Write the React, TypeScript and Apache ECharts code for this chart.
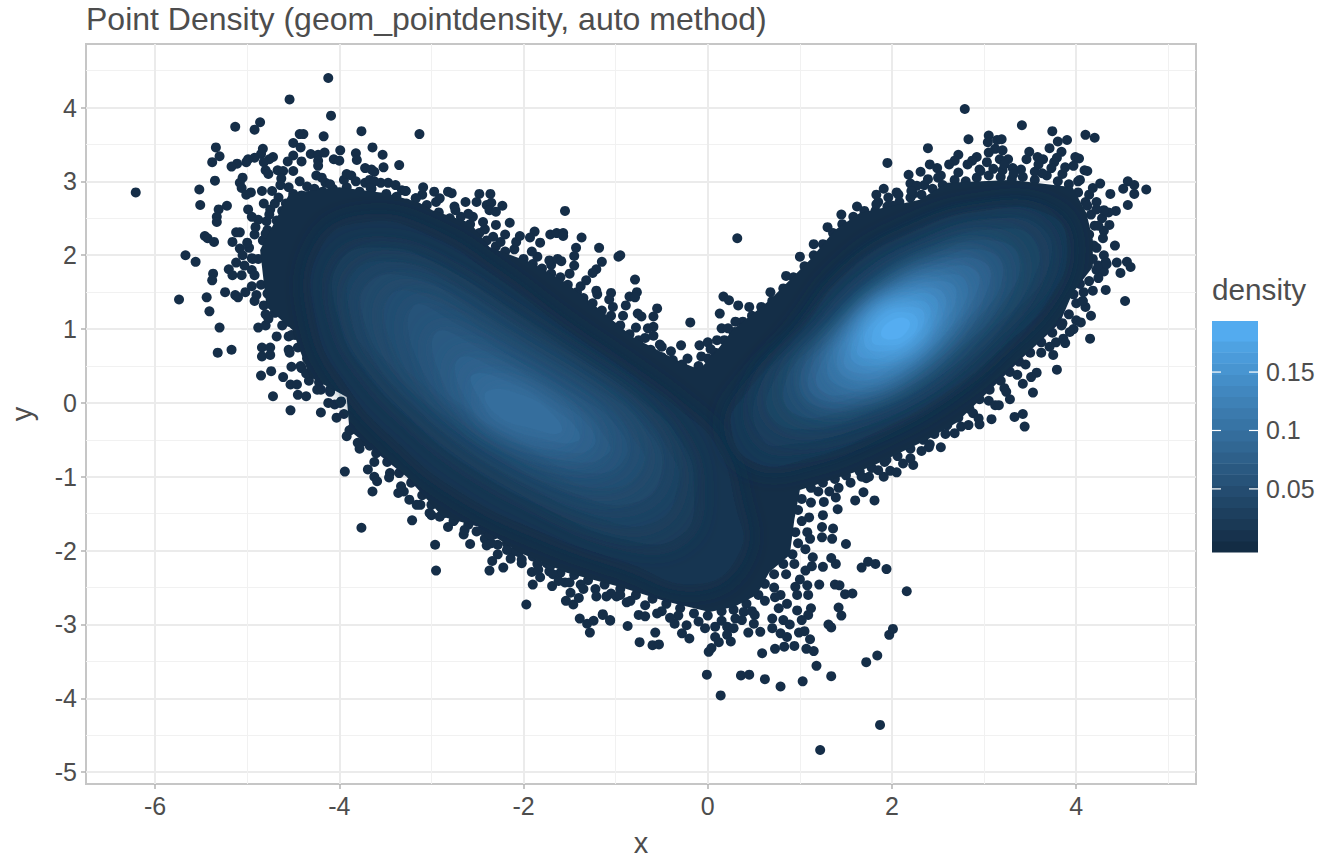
import React, { useEffect, useRef } from "react";
import * as echarts from "echarts";

// axis values
const xTicks = [-6, -4, -2, 0, 2, 4];
const xMinor = [-5, -3, -1, 1, 3, 5];
const yTicks = [-5, -4, -3, -2, -1, 0, 1, 2, 3, 4];
const yMinor = [-4.5, -3.5, -2.5, -1.5, -0.5, 0.5, 1.5, 2.5, 3.5, 4.5];
const legendTicks = [0.05, 0.1, 0.15];
const legendEdges = [
  -0.004, 0.0055, 0.015, 0.0245, 0.034, 0.0435, 0.053, 0.0625, 0.072, 0.0815, 0.091,
  0.1005, 0.11, 0.1195, 0.129, 0.1385, 0.148, 0.1575, 0.167, 0.1765, 0.1937,
];

// density contours, [x, y]
const outerBody = [
  [-4.86, 2.07], [-4.54, 2.84], [-4.0, 2.92], [-3.49, 2.84], [-3.13, 2.71], [-2.99, 2.61], [-2.58, 2.44],
  [-2.37, 2.11], [-1.9, 1.89], [-1.53, 1.62], [-1.17, 1.26], [-0.81, 0.89], [-0.34, 0.58], [-0.09, 0.45],
  [0.13, 0.76], [0.27, 0.99], [0.67, 1.39], [1.11, 1.94], [1.38, 2.34], [1.65, 2.57], [2.3, 2.75], [2.6, 2.98],
  [3.28, 3.02], [3.96, 2.92], [4.11, 2.57], [4.18, 2.21], [4.18, 1.84], [3.96, 1.49], [3.82, 1.08], [3.39, 0.58],
  [3.1, 0.22], [2.7, -0.27], [2.38, -0.5], [1.76, -0.87], [1.0, -1.18], [0.94, -1.58], [0.89, -2.06], [0.67, -2.29],
  [0.53, -2.6], [0.29, -2.76], [0.02, -2.83], [-0.45, -2.69], [-0.96, -2.49], [-1.53, -2.3], [-2.04, -2.03],
  [-2.48, -1.68], [-2.88, -1.54], [-3.27, -1.0], [-3.59, -0.68], [-3.89, -0.37], [-3.92, 0.08], [-4.32, 0.35],
  [-4.51, 0.99], [-4.79, 1.3],
];
const leftL1 = [[-4.2, 2.1], [-3.7, 2.45], [-3.0, 2.25], [-2.3, 1.7], [-1.6, 1.05], [-0.9, 0.45], [-0.3, -0.1], [0.1, -0.6], [0.3, -1.4], [0.35, -2.0], [-0.1, -2.45], [-0.9, -2.15], [-1.8, -1.75], [-2.7, -1.2], [-3.4, -0.5], [-3.9, 0.2], [-4.25, 1.1]];
const leftL2 = [[-4.0, 1.9], [-3.5, 2.1], [-2.9, 1.85], [-2.2, 1.3], [-1.5, 0.7], [-0.8, 0.1], [-0.3, -0.5], [-0.15, -1.2], [-0.3, -1.8], [-0.9, -1.85], [-1.8, -1.4], [-2.6, -0.85], [-3.2, -0.25], [-3.7, 0.4], [-4.0, 1.1]];
const leftL2b = [[-3.85, 1.75], [-3.35, 1.9], [-2.75, 1.58], [-2.05, 1.02], [-1.35, 0.45], [-0.75, -0.1], [-0.4, -0.7], [-0.32, -1.05], [-0.55, -1.6], [-1.2, -1.55], [-2.05, -1.05], [-2.75, -0.5], [-3.3, 0.1], [-3.7, 0.7], [-3.85, 1.05]];
const leftL3 = [[-3.7, 1.6], [-3.2, 1.7], [-2.6, 1.3], [-1.9, 0.75], [-1.2, 0.2], [-0.7, -0.3], [-0.5, -0.9], [-0.8, -1.35], [-1.5, -1.2], [-2.3, -0.7], [-2.9, -0.15], [-3.4, 0.45], [-3.7, 1.0]];
const leftL3b = [[-3.45, 1.45], [-2.95, 1.38], [-2.35, 0.92], [-1.7, 0.45], [-1.1, -0.05], [-0.8, -0.5], [-0.7, -0.82], [-1.05, -1.15], [-1.75, -0.9], [-2.45, -0.42], [-3.0, 0.15], [-3.4, 0.72]];
const leftL4 = [[-3.2, 1.3], [-2.7, 1.05], [-2.1, 0.6], [-1.5, 0.15], [-1.0, -0.3], [-0.9, -0.75], [-1.3, -0.95], [-2.0, -0.6], [-2.6, -0.15], [-3.1, 0.45]];
const leftL4b = [[-2.95, 0.95], [-2.45, 0.72], [-1.9, 0.32], [-1.4, -0.08], [-1.12, -0.45], [-1.08, -0.68], [-1.45, -0.8], [-2.1, -0.5], [-2.6, -0.08], [-2.85, 0.22]];
const leftL5 = [[-2.7, 0.6], [-2.2, 0.4], [-1.7, 0.05], [-1.3, -0.3], [-1.25, -0.6], [-1.6, -0.65], [-2.2, -0.4], [-2.6, 0.0]];
const leftL5b = [[-2.55, 0.38], [-2.1, 0.25], [-1.68, -0.08], [-1.42, -0.35], [-1.42, -0.52], [-1.75, -0.5], [-2.25, -0.28], [-2.45, 0.0]];
const leftL6 = [[-2.4, 0.15], [-2.0, 0.1], [-1.65, -0.2], [-1.6, -0.4], [-1.9, -0.35], [-2.3, -0.15]];
const rightR1 = [[0.4, 0.1], [1.0, 0.95], [1.5, 1.75], [2.2, 2.3], [3.0, 2.6], [3.7, 2.55], [3.9, 2.1], [3.7, 1.4], [3.2, 0.75], [2.6, 0.15], [1.9, -0.35], [1.1, -0.75], [0.5, -0.8], [0.25, -0.3]];
const rightR1b = [[0.55, 0.18], [1.1, 0.95], [1.6, 1.68], [2.3, 2.2], [3.05, 2.48], [3.62, 2.38], [3.7, 1.85], [3.3, 1.18], [2.85, 0.55], [2.2, -0.05], [1.5, -0.4], [0.95, -0.55], [0.6, -0.5]];
const rightR2 = [[0.7, 0.25], [1.2, 0.95], [1.7, 1.6], [2.4, 2.1], [3.1, 2.35], [3.55, 2.2], [3.5, 1.6], [3.05, 0.95], [2.5, 0.35], [1.8, -0.1], [1.1, -0.35], [0.7, -0.2]];
const rightR2b = [[0.85, 0.3], [1.3, 0.95], [1.8, 1.58], [2.45, 2.02], [3.08, 2.2], [3.38, 1.95], [3.2, 1.35], [2.72, 0.72], [2.15, 0.2], [1.5, -0.1], [0.95, -0.15]];
const rightR3 = [[1.0, 0.35], [1.4, 0.95], [1.9, 1.55], [2.5, 1.95], [3.05, 2.05], [3.2, 1.7], [2.9, 1.1], [2.4, 0.5], [1.8, 0.1], [1.2, -0.05]];
const rightR3b = [[1.1, 0.4], [1.48, 0.98], [1.95, 1.52], [2.5, 1.88], [2.98, 1.92], [3.05, 1.58], [2.72, 1.0], [2.25, 0.45], [1.7, 0.12], [1.22, 0.05]];
const rightR4 = [[1.2, 0.45], [1.55, 1.0], [2.0, 1.5], [2.5, 1.8], [2.9, 1.8], [2.9, 1.45], [2.55, 0.9], [2.1, 0.4], [1.6, 0.15], [1.25, 0.15]];
const rightR4b = [[1.3, 0.5], [1.6, 1.02], [2.02, 1.48], [2.5, 1.72], [2.8, 1.65], [2.72, 1.2], [2.32, 0.65], [1.85, 0.28], [1.45, 0.22]];
const rightR5 = [[1.4, 0.55], [1.65, 1.05], [2.05, 1.45], [2.5, 1.65], [2.7, 1.5], [2.5, 1.0], [2.1, 0.55], [1.65, 0.3]];
const rightR5b = [[1.48, 0.6], [1.7, 1.08], [2.08, 1.42], [2.48, 1.55], [2.58, 1.3], [2.32, 0.85], [1.92, 0.48], [1.58, 0.42]];
const rightR6 = [[1.55, 0.65], [1.75, 1.1], [2.1, 1.4], [2.45, 1.45], [2.45, 1.1], [2.15, 0.7], [1.75, 0.5]];
const rightR6b = [[1.62, 0.72], [1.8, 1.12], [2.12, 1.35], [2.4, 1.32], [2.32, 0.98], [2.02, 0.68], [1.72, 0.6]];
const rightR7 = [[1.7, 0.8], [1.85, 1.15], [2.15, 1.3], [2.35, 1.2], [2.2, 0.85], [1.9, 0.7]];
const rightR7b = [[1.78, 0.85], [1.92, 1.15], [2.18, 1.22], [2.28, 1.08], [2.15, 0.85], [1.92, 0.78]];
const rightR8 = [[1.88, 0.93], [2.0, 1.12], [2.18, 1.12], [2.15, 0.95], [2.0, 0.86]];

const contourShapes = [
  outerBody, leftL1, rightR1, rightR1b, leftL2, rightR2, leftL2b, rightR2b, leftL3, leftL3b, rightR3, leftL4, leftL4b,
  rightR3b, leftL5, leftL5b, rightR4, leftL6, rightR4b, rightR5, rightR5b, rightR6, rightR6b, rightR7, rightR7b, rightR8,
];
const contourLevels = [
  0.004, 0.015, 0.018, 0.027, 0.025, 0.036, 0.033, 0.049, 0.042, 0.05, 0.062, 0.058, 0.068,
  0.076, 0.078, 0.088, 0.09, 0.097, 0.102, 0.115, 0.127, 0.14, 0.152, 0.165, 0.176, 0.188,
];

// single points outside the solid body, [x, y]
const topLeftDots = [
  [-4.12, 4.4], [-4.54, 4.11], [-4.09, 3.89], [-5.13, 3.74], [-4.86, 3.8], [-4.92, 3.7], [-3.76, 3.68], [-4.17, 3.61], [-4.43, 3.64], [-4.39, 3.64],
  [-4.5, 3.52], [-4.42, 3.46], [-5.34, 3.46], [-5.3, 3.34], [-5.38, 3.26], [-4.83, 3.44], [-4.85, 3.37], [-4.92, 3.32], [-4.99, 3.3], [-5.01, 3.26],
  [-5.11, 3.24], [-5.17, 3.2], [-4.72, 3.33], [-4.76, 3.3], [-4.82, 3.26], [-4.8, 3.15], [-4.77, 3.1], [-4.56, 3.27], [-4.5, 3.35], [-4.41, 3.27],
  [-4.31, 3.37], [-4.23, 3.36], [-4.16, 3.39], [-4.23, 3.28], [-4.23, 3.21], [-3.99, 3.42], [-4.06, 3.3], [-4.0, 3.28], [-3.82, 3.38], [-3.81, 3.29],
  [-3.64, 3.46], [-3.53, 3.36], [-3.35, 3.22], [-3.52, 3.19], [-3.72, 3.18], [-3.65, 3.16], [-3.62, 3.13], [-4.67, 3.15], [-4.61, 3.14], [-4.5, 3.14],
  [-5.05, 3.05], [-5.08, 2.98], [-5.06, 2.91], [-5.35, 3.01], [-5.52, 2.89], [-5.51, 2.68], [-6.21, 2.85], [-5.22, 2.67], [-5.31, 2.62], [-5.33, 2.52],
  [-5.33, 2.45], [-4.84, 2.87], [-4.73, 2.87], [-4.96, 2.85], [-5.01, 2.82], [-4.43, 3.0], [-4.63, 3.04], [-4.64, 2.95], [-4.25, 3.08], [-4.19, 3.05],
  [-4.27, 2.9], [-4.1, 2.96], [-3.92, 3.1], [-3.87, 3.08], [-3.82, 3.0], [-3.67, 3.02], [-3.62, 3.0], [-3.66, 2.91], [-3.47, 2.98], [-3.39, 2.95],
  [-3.28, 2.87], [-3.17, 2.77], [-3.13, 3.64], [-5.46, 2.26], [-5.43, 2.23], [-5.36, 2.18], [-5.16, 2.18], [-5.12, 2.31], [-5.08, 2.31], [-5.08, 2.09],
  [-5.0, 2.17], [-4.8, 2.29], [-4.91, 2.38], [-4.99, 2.62], [-4.95, 2.52], [-4.82, 2.7], [-4.79, 2.46], [-4.76, 2.55], [-4.7, 2.7], [-4.54, 2.59],
  [-5.05, 2.0], [-4.95, 1.96],
];
const leftDots = [
  [-5.67, 2.0], [-5.56, 1.91], [-5.37, 1.75], [-5.38, 1.66], [-5.74, 1.4], [-5.44, 1.43], [-5.41, 1.24], [-5.3, 1.02], [-5.32, 0.68], [-5.17, 0.72],
  [-5.24, 1.5], [-5.13, 1.46], [-5.1, 1.43], [-5.02, 1.5], [-5.2, 1.81], [-5.16, 1.73], [-5.06, 1.73], [-5.12, 1.9], [-5.03, 1.86], [-4.94, 1.95],
  [-4.92, 1.73], [-4.9, 1.46], [-4.88, 1.02], [-4.8, 1.05], [-4.77, 1.14], [-4.68, 0.9], [-4.55, 0.9], [-4.52, 0.92], [-4.84, 0.75], [-4.75, 0.75],
  [-4.84, 0.63], [-4.75, 0.65], [-4.54, 0.68], [-4.85, 0.37], [-4.74, 0.43], [-4.61, 0.35], [-4.53, 0.25], [-4.46, 0.25], [-4.52, 0.49], [-4.72, 0.09],
  [-4.53, -0.1], [-4.45, 0.11], [-4.36, 0.09], [-4.2, -0.13], [-4.12, 0.0], [-3.99, 0.0], [-4.03, -0.2], [-3.88, -0.37], [-3.77, -0.39], [-4.41, 0.47],
  [-4.36, 0.4], [-4.24, 0.18], [-4.1, 0.18],
];
const lowerLeftDots = [
  [-3.94, -0.93], [-3.76, -1.69], [-3.64, -1.2], [-3.69, -0.9], [-3.62, -1.0], [-3.59, -1.06], [-3.46, -1.01], [-3.36, -1.22], [-3.33, -1.13], [-3.21, -1.59],
  [-2.64, -1.72], [-2.96, -1.92], [-2.95, -2.27], [-2.58, -1.91], [-2.4, -1.93], [-2.35, -1.9], [-2.28, -2.05], [-2.34, -2.14], [-2.37, -2.27], [-2.22, -2.23],
  [-2.14, -2.11], [-2.18, -1.99], [-2.02, -2.17], [-1.97, -2.73], [-1.91, -2.29], [-1.9, -2.46], [-1.82, -2.36], [-1.84, -2.26], [-1.7, -2.19], [-1.68, -2.32],
  [-1.69, -2.48], [-1.62, -2.41], [-1.54, -2.68], [-1.49, -2.57], [-1.46, -2.73], [-1.4, -2.64], [-1.39, -2.92], [-1.31, -2.99], [-1.24, -2.95], [-1.28, -3.11],
  [-1.14, -2.86], [-1.06, -2.94], [-1.5, -2.43], [-1.35, -2.52], [-1.21, -2.62], [-1.1, -2.62], [-0.99, -2.62], [-3.02, -1.49], [-2.91, -1.54], [-2.76, -1.6],
  [-2.51, -1.74], [-2.37, -1.78], [-3.24, -1.31], [-3.16, -1.38], [-3.8, -0.54], [-3.67, -0.58], [-3.89, -0.37],
];
const bottomDots = [
  [1.22, -4.7], [1.87, -4.36], [0.14, -3.96], [-0.01, -3.68], [0.36, -3.69], [0.45, -3.68], [0.62, -3.74], [0.79, -3.84], [1.03, -3.77], [1.34, -3.7],
  [1.18, -3.56], [1.72, -3.51], [1.84, -3.42], [1.97, -3.14], [2.01, -3.06], [2.16, -2.55], [0.59, -3.39], [0.73, -3.33], [0.83, -3.3], [0.94, -3.29],
  [1.07, -3.33], [1.15, -3.36], [0.01, -3.37], [0.04, -3.32], [1.11, -3.2], [0.99, -3.11], [1.05, -3.09], [1.31, -3.0], [1.34, -3.04], [1.45, -2.88],
  [1.42, -2.77], [1.49, -2.59], [1.57, -2.58], [1.38, -2.46], [1.43, -2.47], [1.21, -2.46], [1.67, -2.23], [1.74, -2.15], [1.82, -2.18], [1.94, -2.25],
  [1.39, -2.18], [1.34, -2.1], [1.25, -2.22], [1.14, -2.09], [1.13, -2.21], [1.5, -1.91], [1.36, -1.7], [1.35, -1.84], [1.24, -1.68], [1.24, -1.82],
  [1.11, -1.84], [1.41, -1.44], [1.25, -1.52], [1.26, -1.34], [1.6, -1.32], [1.81, -1.32], [1.69, -1.21], [1.39, -1.28], [1.32, -1.2], [1.06, -2.27],
  [1.0, -2.39], [1.08, -2.47], [0.95, -2.49], [1.09, -2.6], [0.97, -2.6], [0.79, -2.6], [0.73, -2.63], [0.86, -2.72], [0.77, -2.78], [0.97, -2.81],
  [1.12, -2.78], [1.09, -2.87], [1.02, -2.94], [0.82, -2.94], [0.89, -3.0], [0.7, -2.92], [0.7, -3.05], [0.51, -2.87], [0.5, -2.99], [0.57, -3.1],
  [0.44, -3.11], [0.79, -3.12], [0.86, -3.17], [0.39, -2.83], [0.37, -2.94], [0.21, -3.03], [0.28, -3.05], [0.21, -3.14], [0.25, -3.23], [0.08, -3.03],
  [0.08, -3.17], [0.12, -3.24], [-0.03, -3.05], [-0.28, -3.12], [-0.2, -3.19], [-0.36, -2.99], [-0.23, -3.01], [-0.57, -3.11], [-0.6, -3.28], [-0.53, -3.27],
  [-0.74, -3.24], [-0.87, -3.02], [-1.06, -2.95], [-1.14, -2.87], [-0.75, -2.87], [-0.68, -2.89], [-0.55, -2.85], [-0.41, -2.91], [-0.95, -2.6], [-0.84, -2.68],
];
const topRightDots = [
  [2.79, 3.98], [3.41, 3.76], [3.74, 3.68], [4.1, 3.63], [4.2, 3.59], [3.9, 3.56], [3.8, 3.54], [2.83, 3.57], [2.39, 3.45], [1.95, 3.25],
  [3.05, 3.62], [3.04, 3.53], [3.14, 3.56], [3.19, 3.57], [3.12, 3.44], [3.2, 3.42], [3.05, 3.39], [3.71, 3.45], [3.84, 3.4], [3.79, 3.32],
  [3.76, 3.26], [3.49, 3.4], [3.46, 3.3], [3.58, 3.33], [3.64, 3.3], [3.59, 3.23], [3.73, 3.18], [3.99, 3.33], [4.03, 3.31], [4.09, 3.15],
  [4.12, 3.14], [3.97, 3.21], [3.88, 3.19], [3.26, 3.3], [3.17, 3.3], [3.22, 3.23], [3.31, 3.18], [3.32, 3.1], [3.1, 3.17], [3.03, 3.26],
  [2.96, 3.14], [2.92, 3.33], [2.87, 3.28], [2.82, 3.23], [2.72, 3.36], [2.68, 3.28], [2.62, 3.23], [2.49, 3.18], [2.41, 3.23], [2.53, 3.08],
  [2.39, 3.03], [2.31, 3.13], [2.18, 3.09], [2.2, 2.97], [2.27, 2.94], [3.63, 3.11], [4.04, 3.02], [4.26, 2.97], [4.18, 2.91], [4.37, 2.83],
  [4.56, 3.0], [4.63, 2.95], [4.51, 2.9], [4.76, 2.89], [4.63, 2.83], [4.56, 2.68], [4.43, 2.6], [4.35, 2.58], [4.3, 2.61], [4.22, 2.62],
  [4.36, 2.41], [4.24, 2.4], [4.29, 2.23], [4.42, 2.13], [4.44, 1.9], [4.48, 1.76], [4.55, 1.91], [4.59, 1.84], [4.32, 1.91], [4.24, 1.86],
  [4.33, 1.88], [4.24, 1.69], [4.32, 1.53], [4.53, 1.38], [4.07, 1.38], [4.04, 1.61], [3.97, 1.47], [4.19, 2.13], [4.06, 2.2], [4.12, 2.67],
  [2.23, 2.83], [2.07, 2.82], [1.91, 2.9], [1.83, 2.82], [1.83, 2.69], [2.21, 2.87], [1.96, 2.78], [2.01, 2.67],
];
const notchDots = [
  [-1.55, 2.6], [0.32, 2.23], [-1.37, 2.24], [-1.18, 2.1], [-1.88, 2.32], [-1.93, 2.24], [-2.04, 2.26], [-1.82, 2.17], [-1.71, 2.28], [-1.64, 2.3],
  [-1.57, 2.3], [-1.57, 2.26], [-1.43, 2.1], [-1.45, 1.99], [-1.72, 1.93], [-1.63, 1.95], [-1.59, 1.92], [-1.91, 2.05], [-0.97, 1.98], [-0.95, 2.0],
  [-1.15, 1.91], [-1.21, 1.81], [-1.25, 1.76], [-1.45, 1.86], [-1.32, 1.66], [-0.79, 1.67], [-0.77, 1.5], [-0.85, 1.44], [-0.79, 1.43], [-1.05, 1.49],
  [-1.07, 1.4], [-1.21, 1.52], [-0.55, 1.28], [-0.89, 1.32], [-0.59, 1.17], [-0.72, 1.17], [-0.76, 1.21], [-0.19, 1.09], [0.17, 1.44], [0.23, 1.39],
  [0.13, 1.21], [0.33, 1.32], [-0.59, 1.03], [-0.65, 1.01], [-0.59, 0.91], [-0.52, 0.79], [-0.29, 0.78], [-0.09, 0.78], [0.0, 0.82], [0.03, 0.73],
  [0.15, 1.01], [0.22, 1.01], [0.29, 0.96], [-0.07, 0.63], [-2.36, 2.83], [-2.23, 2.67], [-2.15, 2.44], [-2.48, 2.83], [-2.63, 2.72], [-2.51, 2.72],
  [-2.4, 2.68], [-2.35, 2.71], [-2.82, 2.86], [-2.78, 2.84], [-2.91, 2.77], [-2.97, 2.86], [-3.17, 2.77], [-3.28, 2.87], [-3.09, 2.92], [-2.37, 2.61],
  [-2.3, 2.59], [-2.74, 2.61], [-2.6, 2.56], [-2.44, 2.45], [-2.3, 2.41], [-2.33, 2.25], [-2.2, 2.28],
];
const lowerRightDots = [
  [4.16, 1.18], [4.15, 0.87], [4.05, 1.09], [3.97, 1.0], [3.93, 0.96], [4.07, 1.38], [3.84, 1.05], [3.86, 0.87], [3.88, 0.81], [3.71, 0.76],
  [3.75, 0.65], [3.79, 0.45], [3.53, 0.14], [3.57, 0.41], [3.51, 0.35], [3.42, 0.26], [3.24, 0.15], [3.28, 0.05], [3.12, -0.03], [3.16, -0.03],
  [3.33, -0.19], [3.42, -0.15], [3.44, -0.32], [3.08, -0.22], [2.94, -0.21], [2.95, -0.29], [2.83, -0.3], [2.68, -0.41], [2.53, -0.6], [2.32, -0.65],
  [2.41, -0.56], [2.23, -0.84], [2.2, -0.75], [2.05, -0.94], [1.91, -1.0], [1.85, -0.91], [1.75, -1.0], [1.67, -1.0], [1.94, -0.77],
];
// points packed along the rim of the body
const rimDots = [
  [-4.95, 1.8], [-4.88, 1.95], [-4.83, 2.2], [-4.78, 2.34], [-4.68, 2.47], [-4.62, 2.6], [-4.58, 2.7], [-4.5, 2.83], [-4.41, 2.81], [-4.3, 2.79],
  [-4.18, 2.86], [-4.07, 2.9], [-3.92, 2.92], [-3.78, 2.86], [-3.65, 2.9], [-3.49, 2.83], [-3.38, 2.79], [-3.27, 2.7], [-3.18, 2.65], [-3.05, 2.68],
  [-2.92, 2.58], [-2.8, 2.5], [-2.68, 2.52], [-2.58, 2.42], [-2.48, 2.3], [-2.4, 2.2], [-2.3, 2.12], [-2.2, 2.05], [-2.1, 2.08], [-2.0, 1.95],
  [-1.9, 1.88], [-1.8, 1.82], [-1.7, 1.75], [-1.6, 1.7], [-1.52, 1.6], [-1.42, 1.5], [-1.35, 1.42], [-1.25, 1.35], [-1.15, 1.25], [-1.05, 1.18],
  [-0.95, 1.05], [-0.85, 0.93], [-0.75, 0.85], [-0.62, 0.72], [-0.5, 0.62], [-0.38, 0.58], [-0.28, 0.52], [-0.18, 0.42], [-0.1, 0.5], [0.0, 0.6],
  [0.08, 0.68], [0.18, 0.85], [0.28, 0.95], [0.38, 1.1], [0.48, 1.18], [0.58, 1.3], [0.7, 1.38], [0.82, 1.55], [0.93, 1.7], [1.05, 1.85],
  [1.15, 2.0], [1.25, 2.15], [1.36, 2.3], [1.46, 2.42], [1.58, 2.52], [1.7, 2.6], [1.82, 2.6], [1.95, 2.66], [2.08, 2.72], [2.2, 2.78],
  [2.32, 2.82], [2.44, 2.9], [2.55, 2.95], [2.68, 3.02], [2.8, 3.0], [2.92, 3.05], [3.05, 3.08], [3.18, 3.06], [3.3, 3.03], [3.42, 3.06],
  [3.55, 3.02], [3.68, 3.08], [3.8, 3.0], [3.92, 2.96], [4.02, 2.85], [4.1, 2.72], [4.16, 2.55], [4.2, 2.4], [4.14, 2.28], [4.22, 2.1],
  [4.18, 1.95], [4.22, 1.8], [4.14, 1.65], [4.08, 1.5], [4.0, 1.35], [3.92, 1.2], [3.85, 1.08], [3.74, 0.95], [3.62, 0.82], [3.5, 0.68],
  [3.38, 0.56], [3.28, 0.42], [3.18, 0.3], [3.06, 0.18], [2.95, 0.05], [2.84, -0.08], [2.72, -0.2], [2.6, -0.3], [2.46, -0.42], [2.34, -0.5],
  [2.2, -0.62], [2.06, -0.72], [1.92, -0.8], [1.78, -0.88], [1.65, -0.93], [1.5, -0.98], [1.38, -1.03], [1.25, -1.08], [1.12, -1.15], [1.02, -1.3],
  [0.98, -1.45], [1.02, -1.6], [0.95, -1.75], [0.98, -1.9], [0.92, -2.05], [0.82, -2.18], [0.72, -2.32], [0.62, -2.45], [0.55, -2.6], [0.42, -2.72],
  [0.28, -2.8], [0.15, -2.82], [0.0, -2.88], [-0.15, -2.85], [-0.3, -2.78], [-0.45, -2.72], [-0.6, -2.65], [-0.78, -2.6], [-0.95, -2.52], [-1.12, -2.46],
  [-1.3, -2.4], [-1.45, -2.33], [-1.6, -2.3], [-1.75, -2.17], [-1.9, -2.08], [-2.05, -2.02], [-2.18, -1.9], [-2.32, -1.78], [-2.45, -1.72], [-2.6, -1.65],
  [-2.75, -1.58], [-2.88, -1.5], [-3.0, -1.38], [-3.1, -1.25], [-3.22, -1.08], [-3.35, -0.95], [-3.48, -0.8], [-3.6, -0.68], [-3.72, -0.52], [-3.85, -0.33],
  [-3.95, -0.15], [-3.98, 0.02], [-4.1, 0.15], [-4.22, 0.28], [-4.3, 0.42], [-4.35, 0.6], [-4.45, 0.75], [-4.48, 0.92], [-4.55, 1.1], [-4.7, 1.22],
  [-4.82, 1.32], [-4.78, 1.48], [-4.85, 1.6],
];
// second, looser row just outside the rim
const fringeDots = [
  [-4.98, 2.1], [-4.92, 2.28], [-4.88, 2.48], [-4.75, 2.62], [-4.66, 2.78], [-4.55, 2.92], [-4.35, 2.93], [-4.15, 2.98], [-3.95, 3.02], [-3.72, 2.98],
  [-3.55, 2.98], [-3.32, 2.88], [-3.1, 2.82], [-2.95, 2.72], [-2.75, 2.66], [-2.55, 2.52], [-2.42, 2.35], [-2.25, 2.18], [-2.08, 2.18], [-1.85, 1.98],
  [-1.7, 1.87], [-1.5, 1.75], [-1.38, 1.58], [-1.2, 1.47], [-1.03, 1.3], [-0.92, 1.18], [-0.78, 1.02], [-0.68, 0.88], [-0.5, 0.76], [-0.4, 0.7],
  [-0.22, 0.6], [0.1, 0.85], [0.3, 1.1], [0.45, 1.3], [0.68, 1.5], [0.85, 1.72], [1.0, 1.98], [1.15, 2.15], [1.3, 2.38], [1.45, 2.55],
  [1.62, 2.66], [1.85, 2.72], [2.05, 2.85], [2.35, 2.95], [2.5, 3.05], [2.72, 3.12], [2.95, 3.16], [3.2, 3.15], [3.4, 3.16], [3.55, 3.13],
  [3.85, 3.1], [4.02, 3.0], [4.14, 2.82], [4.22, 2.72], [4.28, 2.5], [4.3, 2.33], [4.3, 2.0], [4.3, 1.78], [4.18, 1.52], [4.1, 1.3],
  [4.0, 1.12], [3.78, 0.82], [3.62, 0.68], [3.45, 0.52], [3.36, 0.38], [3.22, 0.2], [3.05, 0.03], [2.88, -0.14], [2.75, -0.32], [2.58, -0.42],
  [2.4, -0.6], [2.12, -0.82], [1.98, -0.92], [1.72, -1.02], [1.55, -1.08], [1.42, -1.15], [1.2, -1.2], [1.12, -1.35], [1.1, -1.55], [1.08, -1.75],
  [1.06, -1.98], [0.94, -2.18], [0.85, -2.32], [0.72, -2.5], [0.62, -2.68], [0.48, -2.82], [0.3, -2.92], [0.15, -2.95], [-0.1, -2.96], [-0.32, -2.88],
  [-0.5, -2.82], [-0.68, -2.74], [-0.88, -2.7], [-1.05, -2.58], [-1.22, -2.52], [-1.38, -2.46], [-1.55, -2.43], [-1.72, -2.28], [-1.85, -2.18], [-2.02, -2.12],
  [-2.12, -2.02], [-2.28, -1.92], [-2.42, -1.84], [-2.65, -1.78], [-2.82, -1.68], [-3.0, -1.52], [-3.12, -1.38], [-3.3, -1.2], [-3.45, -0.95], [-3.62, -0.8],
  [-3.78, -0.62], [-3.92, -0.45], [-4.05, -0.02], [-4.2, 0.18], [-4.33, 0.3], [-4.42, 0.5], [-4.55, 0.72], [-4.62, 1.05], [-4.8, 1.2], [-4.92, 1.38],
  [-4.95, 1.58],
];

const scatterDots = [...rimDots, ...fringeDots, ...topLeftDots, ...leftDots, ...lowerLeftDots, ...bottomDots, ...topRightDots, ...notchDots, ...lowerRightDots];

const LOW = [0x13, 0x2b, 0x43];
const HIGH = [0x56, 0xb1, 0xf7];

const densityColor = (d: number) => {
  const t = Math.max(0, Math.min(1, d / 0.194));
  const c = LOW.map((v, i) => Math.round(v + (HIGH[i] - v) * t));
  return `rgb(${c[0]},${c[1]},${c[2]})`;
};

const GREY_TEXT = "#4d4d4d";
const FONT = "'Liberation Sans', Arial, sans-serif";

const App = () => {
  const chartRef = useRef<HTMLDivElement>(null);

  useEffect(() => {
    const chart = echarts.init(chartRef.current, null, { renderer: "svg" });

    const option: any = {
      animation: false,
      backgroundColor: "#ffffff",
      textStyle: { fontFamily: FONT },
      title: {
        text: "Point Density (geom_pointdensity, auto method)",
        left: 86,
        top: 3,
        padding: 0,
        textStyle: { fontSize: 32, fontWeight: "normal", color: GREY_TEXT, fontFamily: FONT },
      },
      grid: [
        { left: 86, top: 44, width: 1110, height: 740, show: true, borderColor: "#c6c6c6", borderWidth: 2, backgroundColor: "transparent", outerBoundsMode: "none" },
        { left: 1212, top: 321, width: 46, height: 231, outerBoundsMode: "none" },
      ],
      xAxis: [
        {
          type: "value", gridIndex: 0, min: -6.75, max: 5.3,
          name: "x", nameLocation: "middle", nameGap: 44,
          nameTextStyle: { fontSize: 29, color: GREY_TEXT, fontFamily: FONT },
          axisLine: { show: false, onZero: false },
          axisTick: { show: true, length: 5, customValues: xTicks, lineStyle: { color: "#b3b3b3", width: 1.5 } },
          axisLabel: { customValues: xTicks, fontSize: 25, color: GREY_TEXT, margin: 9, fontFamily: FONT },
          splitLine: { show: true, lineStyle: { color: "#ebebeb", width: 2 } },
        },
        {
          type: "value", gridIndex: 0, min: -6.75, max: 5.3,
          axisLine: { show: false, onZero: false },
          axisTick: { show: false, customValues: xMinor },
          axisLabel: { show: false },
          splitLine: { show: true, lineStyle: { color: "#f1f1f1", width: 1 } },
        },
        { type: "value", gridIndex: 1, min: 0, max: 1, show: false },
      ],
      yAxis: [
        {
          type: "value", gridIndex: 0, min: -5.16, max: 4.86,
          name: "y", nameLocation: "middle", nameGap: 50, nameRotate: 90,
          nameTextStyle: { fontSize: 29, color: GREY_TEXT, fontFamily: FONT },
          axisLine: { show: false, onZero: false },
          axisTick: { show: true, length: 5, customValues: yTicks, lineStyle: { color: "#b3b3b3", width: 1.5 } },
          axisLabel: { customValues: yTicks, fontSize: 25, color: GREY_TEXT, margin: 9, fontFamily: FONT },
          splitLine: { show: true, lineStyle: { color: "#ebebeb", width: 2 } },
        },
        {
          type: "value", gridIndex: 0, min: -5.16, max: 4.86,
          axisLine: { show: false, onZero: false },
          axisTick: { show: false, customValues: yMinor },
          axisLabel: { show: false },
          splitLine: { show: true, lineStyle: { color: "#f1f1f1", width: 1 } },
        },
        {
          type: "value", gridIndex: 1, min: -0.004, max: 0.1937, position: "right",
          axisLine: { show: false },
          axisTick: { show: false, customValues: legendTicks },
          axisLabel: { customValues: legendTicks, fontSize: 25, color: GREY_TEXT, margin: 8, fontFamily: FONT },
          splitLine: { show: false },
        },
      ],
      graphic: [
        {
          type: "text", left: 1212, top: 274,
          style: { text: "density", font: `29.7px ${FONT}`, fill: GREY_TEXT },
        },
      ],
      series: [
        {
          type: "custom", xAxisIndex: 0, yAxisIndex: 0, z: 3,
          data: contourLevels.map((d, i) => [i, d]),
          renderItem: (params: any, api: any) => {
            const i = params.dataIndex;
            const color = densityColor(contourLevels[i]);
            return {
              type: "polygon",
              shape: { points: contourShapes[i].map((p) => api.coord(p)), smooth: i === 0 ? 0 : 0.5 },
              style: { fill: color, shadowBlur: i === 0 ? 0 : 24, shadowColor: color },
            };
          },
        },
        {
          type: "scatter", xAxisIndex: 0, yAxisIndex: 0, z: 2,
          symbolSize: 10,
          itemStyle: { color: "#152e48", opacity: 1 },
          data: scatterDots,
        },
        {
          type: "custom", xAxisIndex: 2, yAxisIndex: 2, z: 3,
          data: legendEdges.slice(1).map((hi, i) => [legendEdges[i], hi]),
          renderItem: (params: any, api: any) => {
            const lo = legendEdges[params.dataIndex];
            const hi = legendEdges[params.dataIndex + 1];
            const a = api.coord([0, hi]);
            const b = api.coord([1, lo]);
            return {
              type: "rect",
              shape: { x: a[0], y: a[1], width: b[0] - a[0], height: b[1] - a[1] + 0.5 },
              style: { fill: densityColor(Math.max(0, (lo + hi) / 2)) },
            };
          },
        },
        {
          type: "custom", xAxisIndex: 2, yAxisIndex: 2, z: 4,
          data: legendTicks.map((v) => [0, v]),
          renderItem: (params: any, api: any) => {
            const v = legendTicks[params.dataIndex];
            const l = api.coord([0, v]);
            const r = api.coord([1, v]);
            const style = { stroke: "#ffffff", lineWidth: 1.2 };
            return {
              type: "group",
              children: [
                { type: "line", shape: { x1: l[0], y1: l[1], x2: l[0] + 9, y2: l[1] }, style },
                { type: "line", shape: { x1: r[0] - 9, y1: r[1], x2: r[0], y2: r[1] }, style },
              ],
            };
          },
        },
      ],
    };

    chart.setOption(option);

    return () => {
      chart.dispose();
    };
  }, []);

  return <div ref={chartRef} style={{ position: "fixed", left: 0, top: 0, width: 1344, height: 864 }} />;
};

export default App;
